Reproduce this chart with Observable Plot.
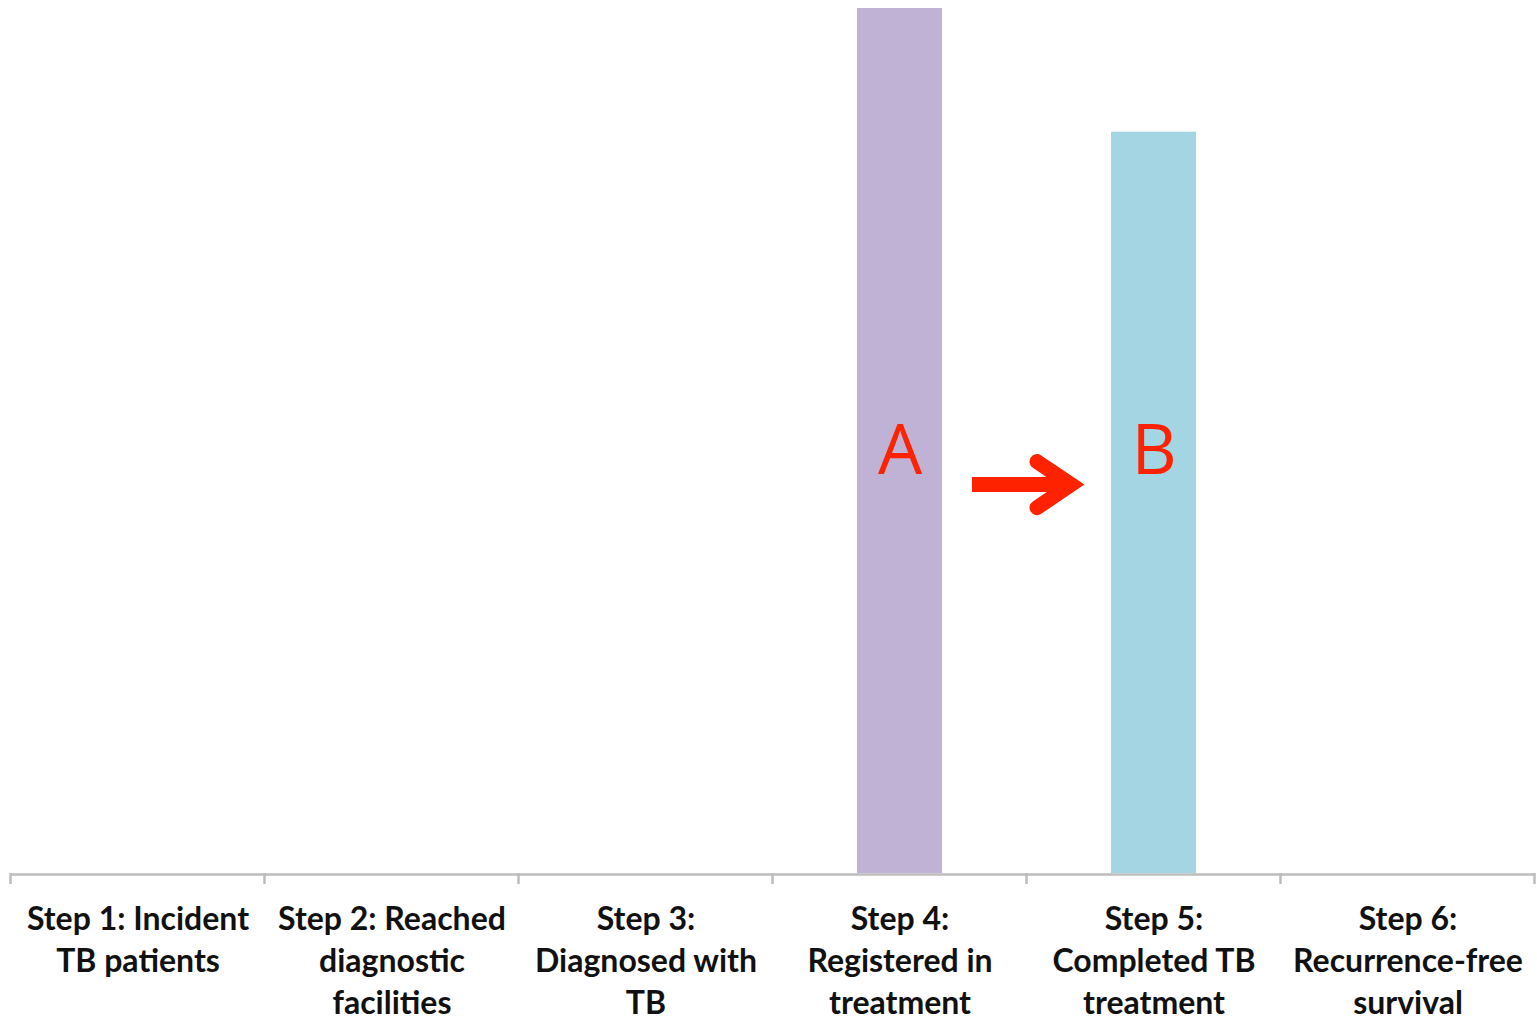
<!DOCTYPE html>
<html>
<head>
<meta charset="utf-8">
<script src="https://cdn.jsdelivr.net/npm/d3@7"></script>
<script src="https://cdn.jsdelivr.net/npm/@observablehq/plot@0.6"></script>
<style>
  html, body { margin: 0; padding: 0; background: #ffffff; }
  #chart { width: 1537px; height: 1020px; overflow: hidden; }
</style>
</head>
<body>
<div id="chart"></div>
<script>
// ---- data ----
const steps = [
  "Step 1: Incident TB patients",
  "Step 2: Reached diagnostic facilities",
  "Step 3: Diagnosed with TB",
  "Step 4: Registered in treatment",
  "Step 5: Completed TB treatment",
  "Step 6: Recurrence-free survival"
];
const tickLabels = [
  "Step 1: Incident\nTB patients",
  "Step 2: Reached\ndiagnostic\nfacilities",
  "Step 3:\nDiagnosed with\nTB",
  "Step 4:\nRegistered in\ntreatment",
  "Step 5:\nCompleted TB\ntreatment",
  "Step 6:\nRecurrence-free\nsurvival"
];
const barSteps = [steps[3], steps[4]];
const barValues = [100, 85.7];
const barColors = ["#C0B2D4", "#A3D5E3"];
const letterSteps = [steps[3], steps[4]];
const letterTexts = ["A", "B"];
const letterLevel = [48.8, 48.8];
const arrowFrom = steps[3];
const arrowTo = steps[4];
const arrowLevel = 44.9;

const bars = barSteps.map((s, i) => ({step: s, value: barValues[i]}));
const letters = letterSteps.map((s, i) => ({step: s, text: letterTexts[i], level: letterLevel[i]}));
const labelOf = new Map(steps.map((s, i) => [s, tickLabels[i]]));

const RED = "#FF2200";

// category boundary ticks below the baseline
function boundaryTicks(index, scales, values, dims) {
  const x = scales.x, y = scales.y;
  const g = d3.create("svg:g");
  const half = x.step() / 2;
  const centers = steps.map(s => x(s) + x.bandwidth() / 2);
  const bounds = centers.map(c => c - half).concat([centers[centers.length - 1] + half]);
  const y0 = y(0);
  g.selectAll("line").data(bounds).join("line")
    .attr("x1", d => d).attr("x2", d => d)
    .attr("y1", y0).attr("y2", y0 + 11)
    .attr("stroke", "#BDBDBD").attr("stroke-width", 2.5);
  return g.node();
}

// arrow from bar A to bar B
function arrowMark(index, scales, values, dims) {
  const x = scales.x, y = scales.y;
  const bw = x.bandwidth();
  const xs = x(arrowFrom) + bw + 30;
  const tip = x(arrowTo) - 26;
  const yy = y(arrowLevel);
  const vx = tip - 14;
  const g = d3.create("svg:g").attr("fill", "none").attr("stroke", RED).attr("stroke-width", 15);
  g.append("path").attr("d", `M${xs},${yy}L${vx - 2},${yy}`).attr("stroke-linecap", "butt");
  g.append("path").attr("d", `M${vx - 34},${yy - 23}L${vx},${yy}L${vx - 34},${yy + 23}`)
    .attr("stroke-linecap", "round").attr("stroke-linejoin", "miter").attr("stroke-miterlimit", 6);
  return g.node();
}

const chart = Plot.plot({
  width: 1537,
  height: 1020,
  marginLeft: 10,
  marginRight: 2,
  marginTop: 8,
  marginBottom: 147,
  style: {background: "#ffffff", color: "#111111"},
  x: {domain: steps, paddingInner: 0.665, paddingOuter: 0.3325, axis: null},
  y: {domain: [0, 100], axis: null},
  color: {domain: barSteps, range: barColors},
  marks: [
    Plot.barY(bars, {x: "step", y: "value", fill: "step"}),
    Plot.ruleY([0], {stroke: "#BDBDBD", strokeWidth: 2.5, dy: 1}),
    boundaryTicks,
    Plot.text(letters, {x: "step", y: "level", text: "text", fill: RED, fontSize: 70, fontFamily: "Open Sans", fontWeight: 400}),
    arrowMark,
    Plot.axisX({
      tickSize: 0,
      tickPadding: 27,
      tickFormat: d => labelOf.get(d),
      lineAnchor: "top",
      lineHeight: 1.31,
      fontSize: 32,
      fontWeight: "bold",
      fontFamily: "Lato",
      fill: "#111111",
      label: null
    })
  ]
});
document.getElementById("chart").appendChild(chart);
</script>
</body>
</html>
